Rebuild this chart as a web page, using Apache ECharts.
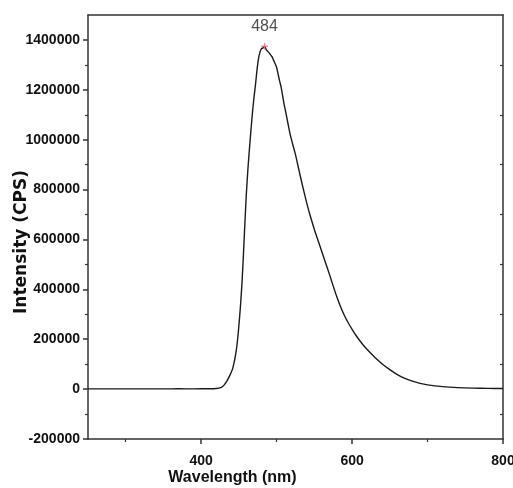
<!DOCTYPE html>
<html>
<head>
<meta charset="utf-8">
<script src="https://cdn.jsdelivr.net/npm/echarts@6/dist/echarts.min.js"></script>
<style>
  html, body { margin: 0; padding: 0; background: #fff; }
  #main { width: 513px; height: 488px; }
</style>
</head>
<body>
<div id="main"></div>
<script>
// emission spectrum, values
var wavelength = [250, 270, 290, 310, 330, 350, 370, 390, 410, 420, 426, 430, 434, 438, 442, 446, 449, 452, 454, 456,
  458, 460, 462, 464, 466, 468, 470, 472, 474, 476, 478, 480, 482, 484, 486, 488, 490, 492, 494, 496,
  498, 500, 502, 504, 506, 508, 510, 512, 515, 518, 521, 525, 530, 535, 540, 545, 550, 555, 560, 565,
  570, 575, 580, 585, 590, 595, 600, 605, 610, 615, 620, 630, 640, 650, 660, 670, 680, 690, 700, 720,
  740, 760, 780, 800];
var intensity = [1000, 800, 1000, 900, 1100, 1000, 1200, 1100, 1500, 2500, 6000, 15000, 32000, 55000, 85000, 145000, 221000, 330000, 422000, 540000,
  670000, 790000, 885000, 965000, 1040000, 1110000, 1170000, 1222000, 1280000, 1325000, 1352000, 1365000, 1368000, 1375000, 1362000, 1355000, 1348000, 1340000, 1332000, 1318000,
  1305000, 1290000, 1262000, 1235000, 1210000, 1175000, 1140000, 1112000, 1065000, 1020000, 985000, 940000, 872000, 807000, 745000, 690000, 640000, 595000, 550000, 505000,
  460000, 413000, 368000, 328000, 294000, 265000, 240000, 216000, 195000, 176000, 159000, 128000, 101000, 78000, 58000, 43000, 32000, 23000, 17000, 10000,
  6000, 4000, 3000, 2500];
var peakWavelength = 484;
var peakIntensity = 1375000;

var xMajorTicks = [400, 600, 800];
var xMinorTicks = [300, 500, 700];
var yMajorTicks = [-200000, 0, 200000, 400000, 600000, 800000, 1000000, 1200000, 1400000];
var yMinorTicks = [-100000, 100000, 300000, 500000, 700000, 900000, 1100000, 1300000];

var xMin = 250, xMax = 800;
var yMin = -200000, yMax = 1500000;

var spectrum = wavelength.map(function (w, i) { return [w, intensity[i]]; });

var axisColor = '#333';
var tickFont = {
  fontFamily: '"Liberation Sans", Arial, sans-serif',
  fontWeight: 'bold',
  fontSize: 14,
  color: '#111'
};

var dom = document.getElementById('main');
var myChart = echarts.init(dom, null, { renderer: 'canvas' });

var option = {
  backgroundColor: '#fff',
  animation: false,
  grid: {
    left: 88,
    right: 10,
    top: 15,
    bottom: 49,
    containLabel: false,
    outerBoundsMode: 'none'
  },
  xAxis: [
    {
      // main bottom axis with labels
      type: 'value',
      position: 'bottom',
      min: xMin,
      max: xMax,
      name: 'Wavelength (nm)',
      nameLocation: 'middle',
      nameGap: 31,
      nameMoveOverlap: false,
      nameTextStyle: {
        fontFamily: '"Liberation Sans", Arial, sans-serif',
        fontWeight: 'bold',
        fontSize: 16,
        color: '#111',
        padding: [0, 126, 0, 0]
      },
      axisLine: { show: true, onZero: false, lineStyle: { color: axisColor, width: 1.5 } },
      axisTick: { show: true, inside: false, length: 5, customValues: xMajorTicks, lineStyle: { color: axisColor, width: 1.5 } },
      axisLabel: Object.assign({
        margin: 15,
        customValues: xMajorTicks,
        formatter: function (v) { return String(v); }
      }, tickFont),
      splitLine: { show: false }
    },
    {
      // minor ticks on bottom
      type: 'value',
      position: 'bottom',
      min: xMin,
      max: xMax,
      axisLine: { show: false, onZero: false },
      axisTick: { show: true, inside: false, length: 3, customValues: xMinorTicks, lineStyle: { color: axisColor, width: 1.2 } },
      axisLabel: { show: false },
      splitLine: { show: false }
    },
    {
      // top frame line
      type: 'value',
      position: 'top',
      min: xMin,
      max: xMax,
      axisLine: { show: true, onZero: false, lineStyle: { color: axisColor, width: 1.5 } },
      axisTick: { show: false },
      axisLabel: { show: false },
      splitLine: { show: false }
    }
  ],
  yAxis: [
    {
      type: 'value',
      position: 'left',
      min: yMin,
      max: yMax,
      name: 'Intensity (CPS)',
      nameLocation: 'middle',
      nameGap: 58,
      nameMoveOverlap: false,
      nameTextStyle: {
        fontFamily: '"DejaVu Sans", sans-serif',
        fontWeight: 'bold',
        fontSize: 17,
        color: '#111',
        padding: [0, 30, 0, 0]
      },
      axisLine: { show: true, onZero: false, lineStyle: { color: axisColor, width: 1.5 } },
      axisTick: { show: true, inside: false, length: 5, customValues: yMajorTicks, lineStyle: { color: axisColor, width: 1.5 } },
      axisLabel: Object.assign({
        margin: 8,
        customValues: yMajorTicks,
        formatter: function (v) { return String(v); }
      }, tickFont),
      splitLine: { show: false }
    },
    {
      // minor ticks on left
      type: 'value',
      position: 'left',
      min: yMin,
      max: yMax,
      axisLine: { show: false, onZero: false },
      axisTick: { show: true, inside: false, length: 3, customValues: yMinorTicks, lineStyle: { color: axisColor, width: 1.2 } },
      axisLabel: { show: false },
      splitLine: { show: false }
    },
    {
      // right frame with inward ticks
      type: 'value',
      position: 'right',
      min: yMin,
      max: yMax,
      axisLine: { show: true, onZero: false, lineStyle: { color: axisColor, width: 1.5 } },
      axisTick: { show: true, inside: true, length: 3, customValues: yMinorTicks, lineStyle: { color: axisColor, width: 1.2 } },
      axisLabel: { show: false },
      splitLine: { show: false }
    }
  ],
  series: [
    {
      type: 'line',
      xAxisIndex: 0,
      yAxisIndex: 0,
      data: spectrum,
      showSymbol: false,
      smooth: 0.2,
      lineStyle: { color: '#1a1a1a', width: 1.4 },
      z: 3
    },
    {
      type: 'scatter',
      xAxisIndex: 0,
      yAxisIndex: 0,
      data: [[peakWavelength, peakIntensity]],
      symbol: 'path://M4,0 L6,0 L6,4 L10,4 L10,6 L6,6 L6,10 L4,10 L4,6 L0,6 L0,4 L4,4 Z',
      symbolSize: 7,
      itemStyle: { color: '#e8707a' },
      label: {
        show: true,
        position: 'top',
        distance: 8,
        formatter: function (p) { return String(p.value[0]); },
        fontFamily: '"Liberation Sans", Arial, sans-serif',
        fontSize: 16,
        color: '#222'
      },
      z: 4
    }
  ]
};

if (option && typeof option === 'object') {
  myChart.setOption(option);
}

window.addEventListener('resize', myChart.resize);
</script>
</body>
</html>
